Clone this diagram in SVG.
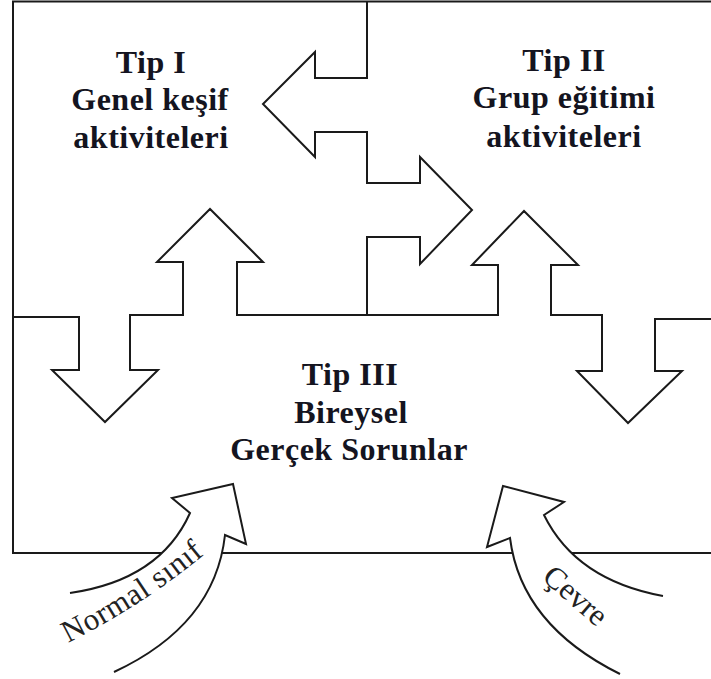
<svg xmlns="http://www.w3.org/2000/svg" width="711" height="679" viewBox="0 0 711 679">
  <style>
    .ln { fill: none; stroke: #1a1a1a; stroke-width: 2; stroke-linejoin: miter; }
    .blk { fill: #ffffff; stroke: #1a1a1a; stroke-width: 2; stroke-linejoin: miter; }
    .title { font-family: "Liberation Serif", "Times New Roman", serif; font-weight: bold; font-size: 32px; letter-spacing: 0.5px; fill: #141420; text-anchor: middle; }
    .lbl { font-family: "Liberation Serif", "Times New Roman", serif; font-size: 31px; fill: #222; }
  </style>
  <defs>
    <path id="p-normal" d="M 68,643 Q 150,602 218,543"/>
    <path id="p-cevre" d="M 541,579 L 615,643"/>
  </defs>
  <rect width="711" height="679" fill="#ffffff"/>

  <!-- outer frame: top, left, bottom -->
  <g id="frame">
    <path class="ln" d="M 711,1.5 L 13,1.5 L 13,553 L 711,553"/>
  </g>

  <!-- block arrows between the three activity types -->
  <g id="connectors">
    <!-- left / right zig-zag arrow joined to the top edge -->
    <path class="ln" d="M 367,1 L 367,78 L 315,78 L 315,52 L 263,104 L 315,157 L 315,132 L 367,132 L 367,183 L 420,183 L 420,157 L 472,210 L 420,264 L 420,237 L 367,237 L 367,315"/>
    <!-- middle divider with up and down arrows -->
    <path class="ln" d="M 13,317 L 79,317 L 79,370 L 52,370 L 105,422 L 158,370 L 130,370 L 130,315 L 183,315 L 183,262 L 157,262 L 210,209 L 263,262 L 237,262 L 237,315 L 498,315 L 498,265 L 472,265 L 524,211 L 578,265 L 551,265 L 551,315 L 602,315 L 602,371 L 577,371 L 628,423 L 682,371 L 655,371 L 655,319 L 711,319"/>
  </g>

  <g id="tip1">
    <text class="title" x="151" y="73">Tip I</text>
    <text class="title" x="150" y="110">Genel keşif</text>
    <text class="title" x="151" y="148">aktiviteleri</text>
  </g>

  <g id="tip2">
    <text class="title" x="564" y="71">Tip II</text>
    <text class="title" x="564" y="108">Grup eğitimi</text>
    <text class="title" x="564" y="147">aktiviteleri</text>
  </g>

  <g id="tip3">
    <text class="title" x="350" y="385">Tip III</text>
    <text class="title" x="351" y="423">Bireysel</text>
    <text class="title" x="349" y="460">Gerçek Sorunlar</text>
  </g>

  <!-- curved inflow arrows -->
  <g id="normal-sinif">
    <path class="blk" d="M 114,672 Q 215,625 225,535 L 246,544 L 233,484 L 172,498 L 190,513 Q 160,580 70,593"/>
    <text class="lbl" font-size="32" letter-spacing="0.5"><textPath href="#p-normal">Normal sınıf</textPath></text>
  </g>

  <g id="cevre">
    <path class="blk" d="M 620,674 Q 521,625 510,538 L 487,547 L 503,486 L 564,502 L 544,515 Q 576,580 663,596"/>
    <text class="lbl"><textPath href="#p-cevre">Çevre</textPath></text>
  </g>
</svg>
